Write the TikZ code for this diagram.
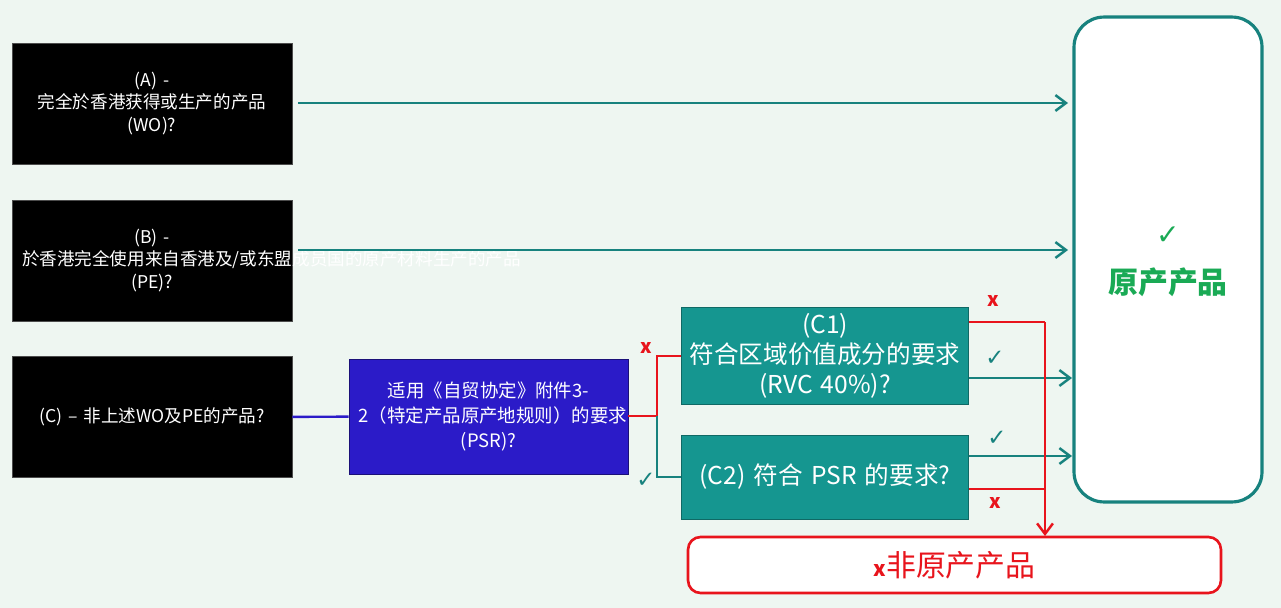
\documentclass[tikz,border=0pt]{standalone}
\usepackage{fontspec}
\setmainfont{Noto Sans CJK SC}
\newfontfamily\symfont{DejaVu Sans}
\usetikzlibrary{arrows.meta}
\definecolor{bgmint}{HTML}{EEF6F1}
\definecolor{tealbox}{HTML}{159690}
\definecolor{tealline}{HTML}{17827E}
\definecolor{bluebox}{HTML}{2B1BC8}
\definecolor{okgreen}{HTML}{1AAA55}
\definecolor{nored}{HTML}{E8141C}
\begin{document}
\begin{tikzpicture}[x=0.02cm,y=-0.02cm]
                \tikzset{question/.style = {draw=black!70,fill=black,text=white,align=center,minimum width=5.6cm,minimum height=2.42cm,text width=5.2cm,font=\fontsize{10}{13}\selectfont}}
                \tikzset{check/.style = {draw=tealbox!70!black,fill=tealbox,text=white,align=center,minimum width=5.6cm,minimum height=1.68cm,text width=5.5cm,font=\fontsize{14}{17}\selectfont}}
                \tikzset{yes/.style = {->,>={Straight Barb[length=6pt,width=9pt]},draw=tealline,line width=1.4pt}}
                \tikzset{no/.style = {->,>={Straight Barb[length=6pt,width=9pt]},draw=nored,line width=1.4pt}}
                \tikzset{tick/.style = {text=tealline,font=\symfont\fontsize{13}{13}\selectfont}}
                \tikzset{cross/.style = {text=nored,font=\bfseries\fontsize{11}{11}\selectfont}}
                \fill[bgmint] (0,0) rectangle (1281,608);
                % questions
                \node[question] (wo) at (152,103.5) {(A) - 完全於香港获得或生产的产品 (WO)?};
                \node[question] (pe) at (152,260.5) {(B) - 於香港完全使用来自香港及/或东盟成员国的原产材料生产的产品 (PE)?};
                \node[question] (other) at (152,417) {(C) – 非上述WO及PE的产品?};
                \node[draw=bluebox!60!black,fill=bluebox,text=white,align=center,minimum width=5.58cm,minimum height=2.3cm,text width=5.2cm,font=\fontsize{10.5}{14}\selectfont] (psr) at (488.5,416.5) {适用《自贸协定》附件3-2（特定产品原产地规则）的要求 (PSR)?};
                \node[check] (rvc) at (825,356) {(C1) 符合区域价值成分的要求 (RVC 40\%)?};
                \node[check] (rule) at (825,477) {(C2) 符合 PSR 的要求?};
                % results
                \node[draw=tealline,line width=1.8pt,fill=white,rounded corners=0.6cm,minimum width=3.76cm,minimum height=9.7cm] (origin) at (1168,259.5) {};
                \node[tick,text=okgreen,font=\symfont\fontsize{16}{16}\selectfont] (bigtick) at (1168,236) {✓};
                \node[text=okgreen,font=\bfseries\fontsize{17}{17}\selectfont] (originlabel) at (1168,282) {原产产品};
                \node[draw=nored,line width=1.5pt,fill=white,rounded corners=0.25cm,minimum width=10.66cm,minimum height=1.12cm] (nonorigin) at (954.5,565) {};
                \node[text=nored,font=\fontsize{17}{17}\selectfont] (nonlabel) at (954.5,565) {\textbf{\fontsize{12}{12}\selectfont x}非原产产品};
                % helper points
                \coordinate (fork) at (657,416);
                \coordinate (redrail) at (1045,322);
                \coordinate (redend) at (1045,536);
                % edges
                \draw[yes] (wo.east |- 0,103) ++(6,0) -- (1068,103);
                \draw[yes] (pe.east |- 0,250) ++(6,0) -- (1068,250);
                \draw[draw=bluebox,line width=1.4pt] (other) -- (psr);
                \draw[draw=nored,line width=1.4pt] (psr.east |- fork) -- (fork) |- (rvc.west);
                \draw[draw=tealline,line width=1.4pt] (fork) |- (rule.west);
                \draw[yes] (rvc.east |- 0,378) -- (1072,378);
                \draw[yes] (rule.east |- 0,456) -- (1072,456);
                \draw[draw=nored,line width=1.4pt] (rvc.east |- redrail) -- (redrail);
                \draw[no] (redrail) -- (redend);
                \draw[draw=nored,line width=1.4pt] (rule.east |- 0,489) -- (1045,489);
                % marks
                \node[cross] (x1) at (993,301) {x};
                \node[tick] (t1) at (995,358) {✓};
                \node[tick] (t2) at (997,438) {✓};
                \node[cross] (x2) at (995,503) {x};
                \node[cross] (x3) at (646,348) {x};
                \node[tick] (t3) at (646,480) {✓};
\end{tikzpicture}
\end{document}
